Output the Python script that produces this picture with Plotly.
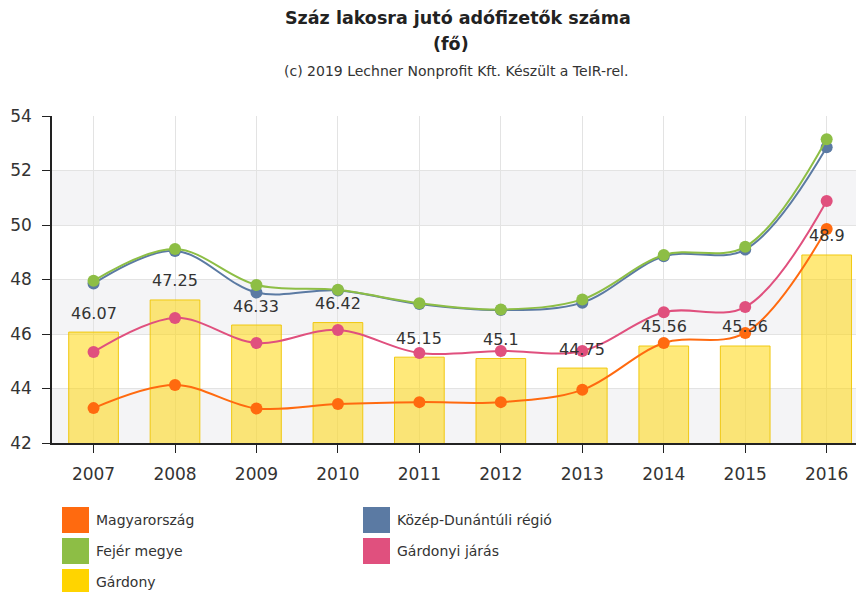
import plotly.graph_objects as go

years = ["2007", "2008", "2009", "2010", "2011", "2012", "2013", "2014", "2015", "2016"]
magyarorszag = [43.28, 44.13, 43.27, 43.43, 43.5, 43.5, 43.95, 45.67, 46.04, 49.85]
kozep_dunantuli = [47.85, 49.05, 47.52, 47.6, 47.1, 46.88, 47.15, 48.85, 49.1, 52.85]
fejer_megye = [47.95, 49.12, 47.8, 47.62, 47.13, 46.9, 47.27, 48.9, 49.2, 53.15]
gardonyi_jaras = [45.34, 46.59, 45.67, 46.15, 45.3, 45.38, 45.38, 46.8, 46.99, 50.88]
gardony = [46.07, 47.25, 46.33, 46.42, 45.15, 45.1, 44.75, 45.56, 45.56, 48.9]
bar_labels = ["46.07", "47.25", "46.33", "46.42", "45.15", "45.1", "44.75", "45.56", "45.56", "48.9"]
y_ticks = [42, 44, 46, 48, 50, 52, 54]

W, H = 856, 592
L, R, T, B = 52, 0, 116, 149
FONT = "DejaVu Sans"

def px(x):
    return (x - L) / (W - L - R)

def py(y):
    return 1 - (y - T) / (H - T - B)

fig = go.Figure()

fig.add_trace(go.Bar(
    x=years, y=gardony, name="Gárdony", width=0.61,
    marker=dict(color="rgba(255,213,0,0.52)", line=dict(color="rgba(240,196,0,0.9)", width=1)),
    hoverinfo="y",
))

series = [
    ("Magyarország", magyarorszag, "#FF6A0F"),
    ("Közép-Dunántúli régió", kozep_dunantuli, "#5B7AA3"),
    ("Fejér megye", fejer_megye, "#8DBE45"),
    ("Gárdonyi járás", gardonyi_jaras, "#E0507E"),
]
for name, vals, col in series:
    fig.add_trace(go.Scatter(
        x=years, y=vals, name=name, mode="lines+markers",
        line=dict(color=col, width=2, shape="spline", smoothing=1.0),
        marker=dict(color=col, size=12),
        cliponaxis=False,
    ))

annotations = []
for i, (v, lab) in enumerate(zip(gardony, bar_labels)):
    annotations.append(dict(
        x=i, y=v, xref="x", yref="y", text=lab, showarrow=False,
        yanchor="middle", yshift=19, font=dict(family=FONT, size=16, color="#333333"),
    ))

# titles
annotations += [
    dict(x=px(458), y=py(18), xref="paper", yref="paper", text="<b>Száz lakosra jutó adófizetők száma</b>",
         showarrow=False, xanchor="center", yanchor="middle", font=dict(family=FONT, size=17.5, color="#222222")),
    dict(x=px(451), y=py(44), xref="paper", yref="paper", text="<b>(fő)</b>",
         showarrow=False, xanchor="center", yanchor="middle", font=dict(family=FONT, size=17.5, color="#222222")),
    dict(x=px(456), y=py(71), xref="paper", yref="paper", text="(c) 2019 Lechner Nonprofit Kft. Készült a TeIR-rel.",
         showarrow=False, xanchor="center", yanchor="middle", font=dict(family=FONT, size=14, color="#333333")),
]

shapes = []
# alternating bands
for y0 in [42, 46, 50]:
    shapes.append(dict(type="rect", xref="paper", yref="y", x0=0, x1=1, y0=y0, y1=y0 + 2,
                       fillcolor="#F4F4F6", line=dict(width=0), layer="below"))

# manual legend
legend_items = [
    ("Magyarország", "#FF6A0F", 62, 507),
    ("Közép-Dunántúli régió", "#5B7AA3", 363, 507),
    ("Fejér megye", "#8DBE45", 62, 538),
    ("Gárdonyi járás", "#E0507E", 363, 538),
    ("Gárdony", "#FFD400", 62, 569),
]
for name, col, x0, y0 in legend_items:
    shapes.append(dict(type="rect", xref="paper", yref="paper",
                       x0=px(x0), x1=px(x0 + 27), y0=py(y0), y1=py(y0 + 26),
                       fillcolor=col, line=dict(width=0)))
    annotations.append(dict(x=px(x0 + 32), y=py(y0 + 13), xref="paper", yref="paper", text=name,
                            showarrow=False, xanchor="left", yanchor="middle",
                            font=dict(family=FONT, size=14, color="#333333")))

fig.update_layout(
    width=W, height=H, margin=dict(l=L, r=R, t=T, b=B, pad=0),
    paper_bgcolor="white", plot_bgcolor="white",
    showlegend=False, barmode="overlay",
    font=dict(family=FONT, size=17, color="#333333"),
    xaxis=dict(type="category", range=[-0.51, 9.36], showgrid=True, gridcolor="#E3E3E3", gridwidth=1,
               showline=True, linecolor="#222222", linewidth=1.5, ticks="outside", ticklen=8,
               tickcolor="#222222", tickfont=dict(family=FONT, size=17, color="#333333"), zeroline=False,
               ticklabelstandoff=7),
    yaxis=dict(range=[42, 54], tickvals=y_ticks, showgrid=True, gridcolor="#E3E3E3", gridwidth=1,
               showline=True, linecolor="#222222", linewidth=1.5, ticks="outside", ticklen=8,
               tickcolor="#222222", tickfont=dict(family=FONT, size=17, color="#333333"), zeroline=False,
               ticklabelstandoff=7),
    shapes=shapes, annotations=annotations,
)

fig.write_html("out.html", config={"displayModeBar": False},
               post_script="document.body.style.margin='0';document.body.style.overflow='hidden';")
